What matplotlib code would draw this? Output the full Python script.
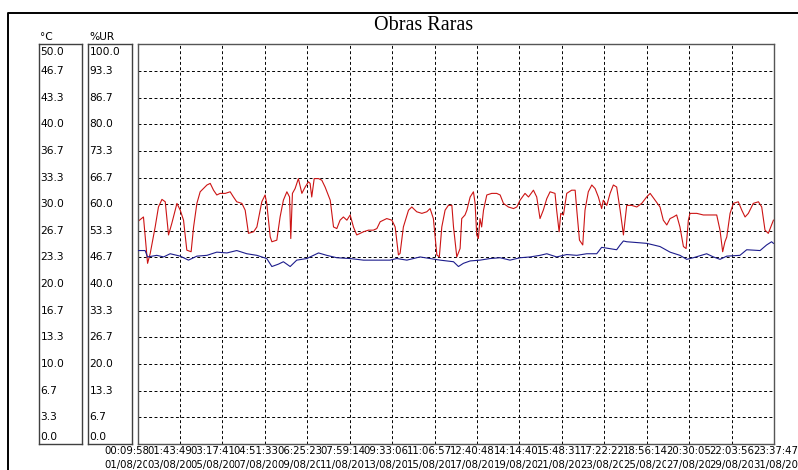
import numpy as np
import matplotlib.pyplot as plt

# Logger data, time in days since 01/08/2011 00:09:58
span = 30.978

# Relative humidity (%UR), red trace
hum_t = [0.00, 0.29, 0.49, 0.62, 0.86, 1.02, 1.19, 1.35, 1.51, 1.67, 1.92, 2.08, 2.24, 2.40,
         2.61, 2.73, 2.89, 3.05, 3.38, 3.54, 3.70, 3.86, 4.02, 4.27, 4.51, 4.67, 4.83, 5.08,
         5.24, 5.40, 5.65, 5.81, 6.05, 6.21, 6.29, 6.46, 6.54, 6.78, 6.94, 7.10, 7.27, 7.40,
         7.46, 7.54, 7.67, 7.83, 8.00, 8.16, 8.32, 8.40, 8.48, 8.60, 8.81, 8.97, 9.13, 9.38,
         9.54, 9.70, 9.86, 10.02, 10.19, 10.35, 10.51, 10.67, 10.84, 11.00, 11.24, 11.48,
         11.65, 11.81, 12.13, 12.38, 12.54, 12.70, 12.78, 12.94, 13.19, 13.35, 13.59, 13.84,
         14.08, 14.24, 14.40, 14.57, 14.69, 14.81, 14.97, 15.13, 15.30, 15.38, 15.54, 15.70,
         15.78, 15.94, 16.03, 16.19, 16.35, 16.43, 16.51, 16.59, 16.67, 16.75, 16.84, 17.00,
         17.24, 17.48, 17.65, 17.81, 18.05, 18.30, 18.46, 18.62, 18.86, 19.03, 19.27, 19.43,
         19.59, 19.75, 19.92, 20.08, 20.32, 20.40, 20.52, 20.60, 20.73, 20.89, 21.13, 21.30,
         21.38, 21.51, 21.67, 21.78, 21.94, 22.11, 22.27, 22.43, 22.59, 22.67, 22.84, 23.00,
         23.16, 23.32, 23.49, 23.65, 23.81, 24.05, 24.30, 24.54, 24.78, 24.95, 25.19, 25.43,
         25.59, 25.76, 25.92, 26.08, 26.24, 26.40, 26.57, 26.70, 26.81, 26.89, 27.22, 27.54,
         27.86, 28.19, 28.35, 28.48, 28.59, 28.68, 28.84, 29.00, 29.24, 29.41, 29.57, 29.73,
         29.97, 30.22, 30.38, 30.54, 30.70, 30.86, 30.95]
hum = [55.6, 56.8, 45.2, 47.7, 54.3, 59.3, 61.2, 60.6, 52.3, 55.2, 60.2, 58.5, 56.0, 48.5,
       48.1, 54.3, 60.2, 63.1, 64.8, 65.2, 63.5, 62.3, 62.7, 62.7, 63.1, 61.8, 60.6, 60.2,
       58.5, 52.7, 53.1, 54.3, 60.6, 62.3, 60.2, 51.8, 50.6, 51.0, 56.8, 61.0, 63.1, 61.8,
       51.4, 62.7, 63.9, 66.4, 62.7, 64.3, 65.6, 65.2, 61.8, 66.4, 66.4, 66.0, 64.3, 61.0,
       54.3, 53.9, 56.0, 56.8, 56.0, 57.3, 54.3, 52.3, 52.7, 53.1, 53.5, 53.5,
       53.9, 55.6, 56.4, 56.0, 54.3, 47.3, 47.7, 54.3, 58.5, 59.3, 58.1, 57.7,
       58.1, 58.9, 56.4, 47.3, 46.8, 54.3, 58.5, 59.7, 59.7, 54.3, 46.8, 48.9,
       56.4, 57.3, 58.5, 61.8, 63.1, 60.2, 52.3, 51.4, 56.4, 54.3, 58.5, 62.3,
       62.7, 62.7, 62.3, 60.2, 59.3, 58.9, 59.3, 61.0, 62.7, 61.8, 63.5, 61.8,
       56.4, 58.5, 61.4, 63.1, 62.7, 58.5, 53.1, 57.7, 57.3, 62.7, 63.5, 63.5,
       58.5, 51.0, 49.8, 58.5, 63.1, 64.8, 63.9, 61.8, 58.9, 61.0, 59.7, 62.7,
       64.8, 64.3, 58.5, 52.3, 59.7, 59.7, 59.3, 60.2, 61.8, 62.7, 61.0, 59.3,
       56.0, 54.8, 56.4, 56.8, 57.3, 54.3, 49.4, 48.9, 56.0, 57.7, 57.7, 57.3,
       57.3, 57.3, 53.5, 48.1, 50.6, 51.8, 57.7, 60.2, 60.6, 58.5, 56.8, 57.7,
       60.2, 60.6, 59.3, 53.5, 52.7, 54.8, 56.0]

# Temperature (°C), blue trace
temp_t = [0.00, 0.37, 0.49, 0.94, 1.27, 1.59, 2.08, 2.48, 2.89, 3.38, 3.86, 4.35, 4.83, 5.32,
          5.81, 6.29, 6.54, 6.86, 7.10, 7.43, 7.75, 8.24, 8.81, 9.21, 9.70, 10.35, 11.00,
          11.65, 12.29, 12.62, 13.11, 13.75, 14.24, 14.73, 15.38, 15.62, 15.86, 16.19, 16.67,
          17.16, 17.65, 18.13, 18.62, 19.11, 19.59, 19.92, 20.40, 20.89, 21.38, 21.86, 22.35,
          22.59, 22.84, 23.32, 23.49, 23.65, 23.81, 24.30, 24.78, 25.11, 25.43, 25.92, 26.40,
          26.73, 27.05, 27.70, 28.03, 28.35, 28.68, 29.32, 29.65, 30.30, 30.62, 30.86, 30.95]
temp = [24.2, 24.2, 23.4, 23.6, 23.4, 23.8, 23.5, 23.0, 23.5, 23.6, 24.0, 23.9, 24.2, 23.8,
        23.6, 23.2, 22.2, 22.5, 22.8, 22.2, 23.0, 23.2, 23.9, 23.6, 23.3, 23.2, 23.0,
        23.0, 23.0, 23.2, 23.0, 23.4, 23.2, 23.0, 22.8, 22.2, 22.6, 22.9, 23.0,
        23.2, 23.3, 23.0, 23.3, 23.4, 23.6, 23.8, 23.4, 23.7, 23.6, 23.8, 23.8,
        24.6, 24.5, 24.3, 24.9, 25.4, 25.3, 25.2, 25.1, 24.9, 24.7, 24.0, 23.6,
        23.1, 23.3, 23.8, 23.4, 23.1, 23.5, 23.6, 24.3, 24.2, 24.9, 25.3, 25.1]

time_labels = ['00:09:58', '01:43:49', '03:17:41', '04:51:33', '06:25:23', '07:59:14',
               '09:33:06', '11:06:57', '12:40:48', '14:14:40', '15:48:31', '17:22:22',
               '18:56:14', '20:30:05', '22:03:56', '23:37:47']
date_labels = ['01/08/2011', '03/08/2011', '05/08/2011', '07/08/2011', '09/08/2011',
               '11/08/2011', '13/08/2011', '15/08/2011', '17/08/2011', '19/08/2011',
               '21/08/2011', '23/08/2011', '25/08/2011', '27/08/2011', '29/08/2011',
               '31/08/2011']

c_ticks = np.linspace(50, 0, 16)
ur_ticks = np.linspace(100, 0, 16)

W, H = 798, 470
fig = plt.figure(figsize=(W / 100, H / 100), dpi=100)
fs = 7.7


def px_axes(x0, y0, x1, y1):
    # axes placed by pixel box (top-left origin)
    return fig.add_axes([x0 / W, 1 - y1 / H, (x1 - x0) / W, (y1 - y0) / H])


# outer frame (top and left edges only visible)
fig.add_artist(plt.Line2D([8 / W, 8 / W, 1], [0, 1 - 13 / H, 1 - 13 / H],
                          transform=fig.transFigure, color='black', lw=1.4))

fig.text(424 / W, 1 - 25 / H, 'Obras Raras', ha='center', va='center',
         fontfamily='Liberation Serif', fontsize=14.5)
fig.text(40 / W, 1 - 37 / H, '°C', ha='left', va='center', fontsize=fs)
fig.text(89 / W, 1 - 37 / H, '%UR', ha='left', va='center', fontsize=fs)

# scale boxes on the left
for x0, x1, top, ticks in [(39.3, 82.3, 50, c_ticks), (88.3, 131.7, 100, ur_ticks)]:
    bx = px_axes(x0, 44.3, x1, 444)
    bx.set_xlim(0, 1)
    bx.set_ylim(0, top)
    bx.set_xticks([])
    bx.set_yticks([])
    for s in bx.spines.values():
        s.set_color('#404040')
        s.set_linewidth(1.0)
    for i, v in enumerate(ticks):
        va = 'top' if i == 0 else ('bottom' if i == len(ticks) - 1 else 'center')
        yv = v - top * 0.007 if i == 0 else (v + top * 0.006 if va == 'bottom' else v)
        bx.text(0.03, yv, f'{v:.1f}', transform=bx.get_yaxis_transform(),
                ha='left', va=va, fontsize=fs)

# main plot
ax = px_axes(137.5, 44.3, 774, 444)
ax.set_xlim(0, span)
ax.set_ylim(0, 100)
ax.set_xticks(np.linspace(0, span, 16)[1:-1])
ax.set_yticks(ur_ticks[1:-1])
ax.tick_params(length=0, labelbottom=False, labelleft=False)
ax.grid(True, color='black', linestyle=(0, (3, 2.5)), linewidth=0.7)
for s in ax.spines.values():
    s.set_color('#555555')
    s.set_linewidth(1.0)
ax.plot(hum_t, hum, color='#cc1414', lw=0.8)

ax2 = ax.twinx()
ax2.set_ylim(0, 50)
ax2.set_yticks([])
ax2.axis('off')
ax2.plot(temp_t, temp, color='#1c1c8c', lw=0.8)

# two-line time / date labels under the plot; dates drawn over the previous one
box = dict(facecolor='white', edgecolor='none', pad=0)
for k, x0 in enumerate(np.linspace(104, 753, 16)):
    fig.text(x0 / W, 1 - 451 / H, time_labels[k], ha='left', va='center',
             fontsize=7.3)
    fig.text(x0 / W, 1 - 465 / H, date_labels[k], ha='left', va='center',
             fontsize=7.3, bbox=box)

fig.savefig('out.png', dpi=100)
